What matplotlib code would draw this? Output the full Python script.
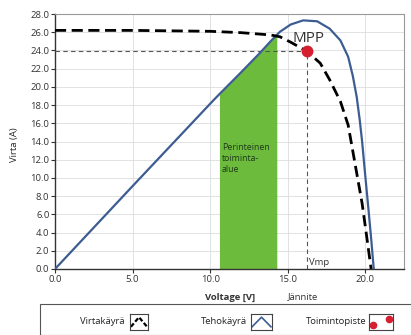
import matplotlib
matplotlib.use("Agg")
import matplotlib.pyplot as plt
import numpy as np
from matplotlib.patches import Rectangle

plt.rcParams['font.family'] = ['Open Sans', 'DejaVu Sans']

# ---- data ----
iv_v = [0.0, 5.0, 10.0, 12.0, 13.9, 14.5, 15.2, 16.24, 17.1, 17.7, 18.4, 18.9, 19.35, 19.8, 20.1, 20.38]
iv_i = [26.2, 26.2, 26.1, 25.95, 25.7, 25.5, 24.9, 23.9, 22.6, 20.8, 18.4, 15.8, 11.5, 7.2, 3.5, 0.0]

p_v = [0.0, 5.0, 10.2, 10.6, 12.0, 13.2, 13.9, 14.3, 14.5, 15.2, 16.0, 16.9, 17.7, 18.4, 18.9, 19.2,
       19.45, 19.65, 19.8, 19.95, 20.1, 20.25, 20.4, 20.55]
p_i = [0.0, 9.1, 18.5, 19.2, 21.6, 23.7, 25.0, 25.7, 26.05, 26.85, 27.3, 27.2, 26.4, 25.1, 23.3, 21.2,
       18.9, 16.3, 14.0, 11.2, 8.5, 5.8, 3.0, 0.0]

mpp_v = 16.24
mpp_i = 23.9
region = (10.6, 14.3)

xticks = [0, 5, 10, 15, 20]
yticks = list(range(0, 29, 2))

fig = plt.figure(figsize=(4.11, 3.35), dpi=100)
ax = fig.add_axes([55/411, 66/335, 349/411, 255/335])
ax.set_xlim(0, 22.5)
ax.set_ylim(0, 28)

ax.set_xticks(xticks)
ax.set_yticks(yticks)
ax.set_xticklabels([f"{t:.1f}" for t in xticks])
ax.set_yticklabels([f"{t:.1f}" for t in yticks])
ax.tick_params(labelsize=6.8, colors="#333333", length=3, width=0.8, pad=1)
ax.grid(True, color="#dddddd", lw=0.6)
ax.set_axisbelow(True)
for s in ["top", "right"]:
    ax.spines[s].set_color("#999999")
for s in ["left", "bottom"]:
    ax.spines[s].set_color("#333333")
    ax.spines[s].set_linewidth(1.0)

pv = np.array(p_v); pi = np.array(p_i)
mask = (pv >= region[0]) & (pv <= region[1])
ax.fill_between(pv[mask], 0, pi[mask], color="#6dbb3c", lw=0, zorder=2)

ax.plot([0, mpp_v], [mpp_i, mpp_i], color="#555555", lw=0.8, dashes=(4, 3), zorder=3)
ax.plot([mpp_v, mpp_v], [0, mpp_i], color="#555555", lw=0.8, dashes=(4, 3), zorder=3)

ax.plot(p_v, p_i, color="#3d5d92", lw=1.6, zorder=4, solid_joinstyle="round")
ax.plot(iv_v, iv_i, color="black", lw=2.0, dashes=(4, 2), zorder=5)
ax.plot([mpp_v], [mpp_i], "o", color="#d42030", ms=7.5, zorder=6)

ax.text(15.3, 24.9, "MPP", fontsize=11, color="#333333", zorder=7)
ax.text(16.4, 0.4, "Vmp", fontsize=6.8, color="#333333", zorder=7)
ax.text(10.75, 13.8, "Perinteinen\ntoiminta-\nalue", fontsize=6.3, color="#1d3b1a",
        va="top", linespacing=1.25, zorder=7)

fig.text(15/411, 1 - 145/335, "Virta (A)", rotation=90, fontsize=6.8, va="center", ha="center", color="#222222")
fig.text(230/411, 1 - 297/335, "Voltage [V]", fontsize=6.8, ha="center", va="center", color="#333333", fontweight="bold")
fig.text(303/411, 1 - 297/335, "Jännite", fontsize=6.8, ha="center", va="center", color="#333333")

# legend box
fig.patches.append(Rectangle((40/411, 0), 1, (335-304)/335, transform=fig.transFigure,
                             fill=False, ec="#555555", lw=0.8))
ly = 1 - 322/335
fig.text(125/411, ly, "Virtakäyrä", fontsize=6.8, ha="right", va="center", color="#222222")
fig.text(247/411, ly, "Tehokäyrä", fontsize=6.8, ha="right", va="center", color="#222222")
fig.text(366/411, ly, "Toimintopiste", fontsize=6.8, ha="right", va="center", color="#222222")

def icon(x0, w):
    a = fig.add_axes([x0/411, 1 - 330/335, w/411, 16/335])
    a.set_xlim(0, 1); a.set_ylim(0, 1)
    a.set_xticks([]); a.set_yticks([])
    for s in a.spines.values():
        s.set_color("#444444"); s.set_linewidth(0.8)
    return a

a1 = icon(130, 18)
a1.plot([0.05, 0.5, 0.95], [0.2, 0.8, 0.2], color="black", lw=1.6, dashes=(2, 1))
a2 = icon(251, 21)
a2.plot([0.05, 0.5, 0.95], [0.2, 0.8, 0.2], color="#3d5d92", lw=1.2)
a3 = icon(369, 24)
a3.plot([0.18, 0.82], [0.3, 0.7], "o", color="#d42030", ms=4.5)

fig.savefig("out.png", dpi=100)
